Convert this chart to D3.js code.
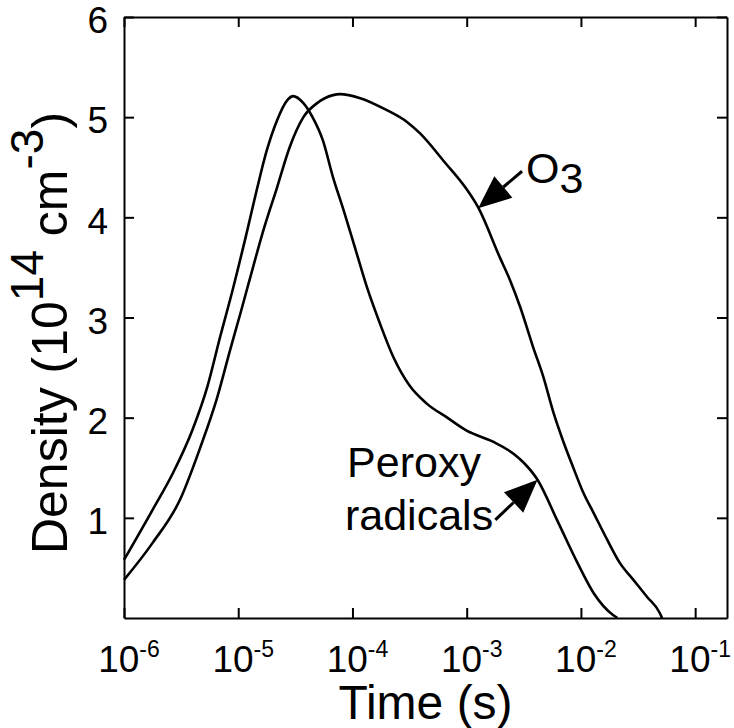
<!DOCTYPE html>
<html>
<head>
<meta charset="utf-8">
<script src="https://cdn.jsdelivr.net/npm/d3@7"></script>
<style>
  body { margin: 0; background: #fff; }
  svg text { font-family: "Liberation Sans", Arial, Helvetica, sans-serif; fill: #000; }
</style>
</head>
<body>
<svg id="chart" width="734" height="728"></svg>
<script>
// values (time in s, density in 1e14 cm^-3)
const peroxyTime = [1.0e-6, 1.78e-6, 2.69e-6, 3.98e-6, 5.37e-6, 6.92e-6, 8.91e-6, 1.20e-5, 1.45e-5,
  1.78e-5, 2.19e-5, 2.69e-5, 3.02e-5, 3.72e-5, 4.47e-5, 5.50e-5, 6.76e-5, 8.32e-5, 1.05e-4,
  1.35e-4, 1.74e-4, 2.29e-4, 3.16e-4, 4.47e-4, 6.76e-4, 1.0e-3, 1.70e-3, 2.57e-3, 3.16e-3,
  4.17e-3, 6.17e-3, 9.33e-3, 1.29e-2, 1.91e-2, 2.09e-2];
const peroxyDensity = [0.58, 1.08, 1.45, 1.88, 2.31, 2.80, 3.27, 3.87, 4.27,
  4.67, 4.97, 5.17, 5.21, 5.14, 5.00, 4.77, 4.40, 4.08, 3.70,
  3.29, 2.94, 2.60, 2.32, 2.14, 2.00, 1.87, 1.76, 1.64, 1.55,
  1.38, 0.98, 0.55, 0.25, 0.03, 0];

const ozoneTime = [1.0e-6, 1.78e-6, 3.09e-6, 4.68e-6, 6.46e-6, 8.51e-6, 1.05e-5, 1.26e-5, 1.66e-5,
  2.19e-5, 2.82e-5, 3.72e-5, 4.90e-5, 6.76e-5, 7.76e-5, 1.17e-4, 2.00e-4, 3.02e-4, 3.89e-4,
  6.31e-4, 1.0e-3, 1.26e-3, 1.95e-3, 2.40e-3, 2.95e-3, 3.80e-3, 4.68e-3, 5.75e-3, 6.92e-3,
  8.51e-3, 1.05e-2, 1.29e-2, 1.70e-2, 2.19e-2, 2.88e-2, 3.80e-2, 4.90e-2, 5.13e-2];
const ozoneDensity = [0.38, 0.75, 1.18, 1.71, 2.18, 2.68, 3.05, 3.38, 3.87,
  4.30, 4.70, 5.00, 5.14, 5.22, 5.23, 5.19, 5.07, 4.95, 4.84,
  4.56, 4.28, 4.10, 3.60, 3.37, 3.10, 2.71, 2.41, 2.05, 1.78,
  1.51, 1.25, 1.05, 0.78, 0.55, 0.38, 0.21, 0.05, 0];

const xTickExp = [-6, -5, -4, -3, -2, -1];
const yTicks = [1, 2, 3, 4, 5, 6];

const W = 734, H = 728;
const m = {l: 124, r: 7, t: 17, b: 110};

const svg = d3.select('#chart');

const x = d3.scaleLog().domain([1e-6, 0.19]).range([m.l, W - m.r]);
const y = d3.scaleLinear().domain([0, 6]).range([H - m.b, m.t]);

const tickVals = xTickExp.map(e => Math.pow(10, e));

// axes on all four sides, ticks pointing inward
svg.append('g').attr('transform', `translate(0,${H - m.b})`)
  .call(d3.axisBottom(x).tickValues(tickVals).tickSizeInner(-10).tickSizeOuter(0).tickFormat(''));
svg.append('g').attr('transform', `translate(0,${m.t})`)
  .call(d3.axisTop(x).tickValues(tickVals).tickSizeInner(-10).tickSizeOuter(0).tickFormat(''));
svg.append('g').attr('transform', `translate(${m.l},0)`)
  .call(d3.axisLeft(y).tickValues(yTicks).tickSizeInner(-10).tickSizeOuter(0).tickFormat(''));
svg.append('g').attr('transform', `translate(${W - m.r},0)`)
  .call(d3.axisRight(y).tickValues(yTicks).tickSizeInner(-10).tickSizeOuter(0).tickFormat(''));

svg.selectAll('.domain').attr('stroke', '#000').attr('stroke-width', 2);
svg.selectAll('.tick line').attr('stroke', '#000').attr('stroke-width', 2);

// x tick labels 10^n
xTickExp.forEach(e => {
  const t = svg.append('text')
    .attr('x', x(Math.pow(10, e)) + 5)
    .attr('y', H - m.b + 54)
    .attr('text-anchor', 'middle')
    .style('font-size', '37px');
  t.append('tspan').text('10');
  t.append('tspan').attr('dy', -15).style('font-size', '23px').text(e);
});

// y tick labels
yTicks.forEach(v => {
  svg.append('text')
    .attr('x', m.l - 16)
    .attr('y', y(v))
    .attr('dy', '0.44em')
    .attr('text-anchor', 'end')
    .style('font-size', '37px')
    .text(v);
});

// axis titles
svg.append('text')
  .attr('x', (m.l + W - m.r) / 2)
  .attr('y', H - 9)
  .attr('text-anchor', 'middle')
  .style('font-size', '48px')
  .text('Time (s)');

const yt = svg.append('text')
  .attr('transform', `translate(67,333) rotate(-90)`)
  .attr('text-anchor', 'middle')
  .style('font-size', '50px');
yt.append('tspan').text('Density (10');
yt.append('tspan').attr('dy', -24).style('font-size', '46px').text('14');
yt.append('tspan').attr('dy', 24).text(' cm');
yt.append('tspan').attr('dy', -24).style('font-size', '46px').text('-3');
yt.append('tspan').attr('dy', 24).text(')');

// curves
const series = [
  {name: 'peroxy', t: peroxyTime, v: peroxyDensity},
  {name: 'ozone', t: ozoneTime, v: ozoneDensity}
];

const line = d3.line()
  .x(d => x(d[0]))
  .y(d => y(d[1]))
  .curve(d3.curveMonotoneX);

svg.append('g').selectAll('path.curve')
  .data(series)
  .join('path')
  .attr('class', 'curve')
  .attr('d', s => line(s.t.map((t, i) => [t, s.v[i]])))
  .attr('fill', 'none')
  .attr('stroke', '#000')
  .attr('stroke-width', 2.6);

// annotations (data coordinates)
const arrows = [
  {tail: [3.05e-3, 4.46], tip: [1.26e-3, 4.09]},
  {tail: [1.78e-3, 0.98], tip: [4.17e-3, 1.38]}
];

arrows.forEach(a => {
  const [x0, y0] = [x(a.tail[0]), y(a.tail[1])];
  const [x1, y1] = [x(a.tip[0]), y(a.tip[1])];
  const len = Math.hypot(x1 - x0, y1 - y0);
  const ux = (x1 - x0) / len, uy = (y1 - y0) / len;
  const hl = 33, hw = 14;
  const bx = x1 - ux * hl, by = y1 - uy * hl;
  svg.append('line')
    .attr('x1', x0).attr('y1', y0).attr('x2', bx).attr('y2', by)
    .attr('stroke', '#000').attr('stroke-width', 3);
  svg.append('path')
    .attr('d', `M${x1},${y1}L${bx - uy * hw},${by + ux * hw}L${bx + uy * hw},${by - ux * hw}Z`)
    .attr('fill', '#000');
});

const o3 = svg.append('text')
  .attr('x', x(3.3e-3)).attr('y', y(4.34))
  .style('font-size', '43px');
o3.append('tspan').text('O');
o3.append('tspan').attr('dy', 10).text('3');

svg.append('text')
  .attr('x', x(8.97e-5)).attr('y', y(1.41))
  .style('font-size', '43px')
  .text('Peroxy');
svg.append('text')
  .attr('x', x(8.6e-5)).attr('y', y(0.88))
  .style('font-size', '43px')
  .text('radicals');
</script>
</body>
</html>
